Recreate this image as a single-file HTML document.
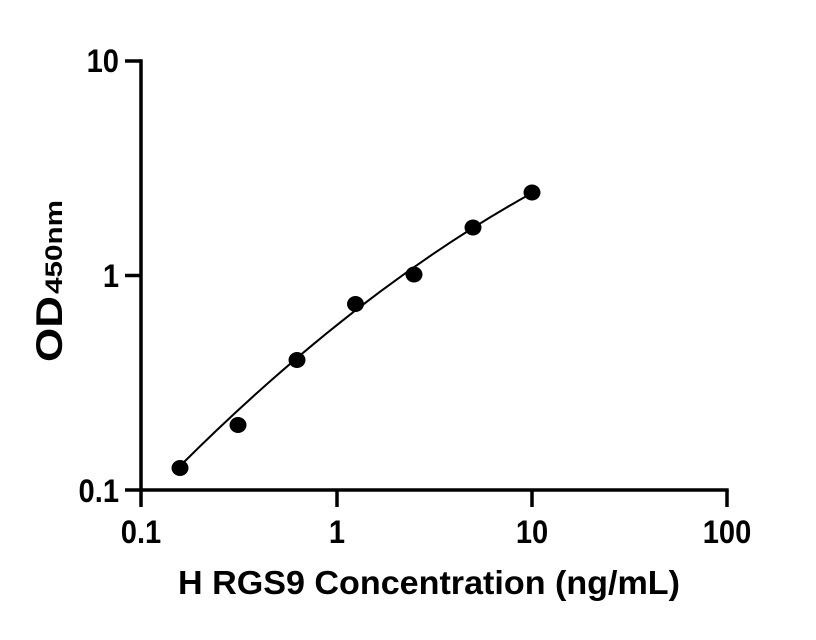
<!DOCTYPE html>
<html><head><meta charset="utf-8"><style>
html,body{margin:0;padding:0;background:#fff;}
svg{display:block;}
</style></head><body>
<svg width="816" height="640" viewBox="0 0 816 640" xmlns="http://www.w3.org/2000/svg">
<rect width="816" height="640" fill="#fff"/>
<g stroke="#000" stroke-width="3.5" fill="none" stroke-linecap="butt">
  <line x1="141" y1="59.3" x2="141" y2="491.7"/>
  <line x1="139.3" y1="490" x2="728.7" y2="490"/>
  <line x1="125" y1="61" x2="141" y2="61"/>
  <line x1="125" y1="275.5" x2="141" y2="275.5"/>
  <line x1="125" y1="490" x2="141" y2="490"/>
  <line x1="141" y1="490" x2="141" y2="507"/>
  <line x1="337" y1="490" x2="337" y2="507"/>
  <line x1="532" y1="490" x2="532" y2="507"/>
  <line x1="727" y1="490" x2="727" y2="507"/>
</g>
<g font-family="Liberation Sans, Arial, sans-serif" font-weight="bold" font-size="30" fill="#000">
  <text transform="translate(119,72) scale(0.97,1.08)" text-anchor="end">10</text>
  <text transform="translate(119,287) scale(0.97,1.08)" text-anchor="end">1</text>
  <text transform="translate(119,502) scale(0.97,1.08)" text-anchor="end">0.1</text>
  <text transform="translate(141,543) scale(0.97,1.08)" text-anchor="middle">0.1</text>
  <text transform="translate(337,543) scale(0.97,1.08)" text-anchor="middle">1</text>
  <text transform="translate(532,543) scale(0.97,1.08)" text-anchor="middle">10</text>
  <text transform="translate(727,543) scale(0.97,1.08)" text-anchor="middle">100</text>
</g>
<text x="429" y="594" text-anchor="middle" font-family="Liberation Sans, Arial, sans-serif" font-weight="bold" font-size="33" textLength="502" lengthAdjust="spacingAndGlyphs">H RGS9 Concentration (ng/mL)</text>
<g transform="translate(62,362) rotate(-90)" font-family="Liberation Sans, Arial, sans-serif" font-weight="bold" fill="#000">
  <text x="0" y="0" font-size="37" textLength="66" lengthAdjust="spacingAndGlyphs">OD</text>
  <text x="68" y="0" font-size="24" textLength="94" lengthAdjust="spacingAndGlyphs">450nm</text>
</g>
<path d="M180,466 Q356,290.5 532,193" stroke="#000" stroke-width="2" fill="none"/>
<g fill="#000">
  <ellipse cx="180" cy="468" rx="8.5" ry="8"/>
  <ellipse cx="238" cy="425" rx="8.5" ry="8"/>
  <ellipse cx="297" cy="360" rx="8.5" ry="8"/>
  <ellipse cx="355.5" cy="304" rx="8.5" ry="8"/>
  <ellipse cx="414" cy="274.5" rx="8.5" ry="8"/>
  <ellipse cx="473" cy="227.5" rx="8.5" ry="8"/>
  <ellipse cx="532" cy="192.5" rx="8.5" ry="8"/>
</g>
</svg>
</body></html>
